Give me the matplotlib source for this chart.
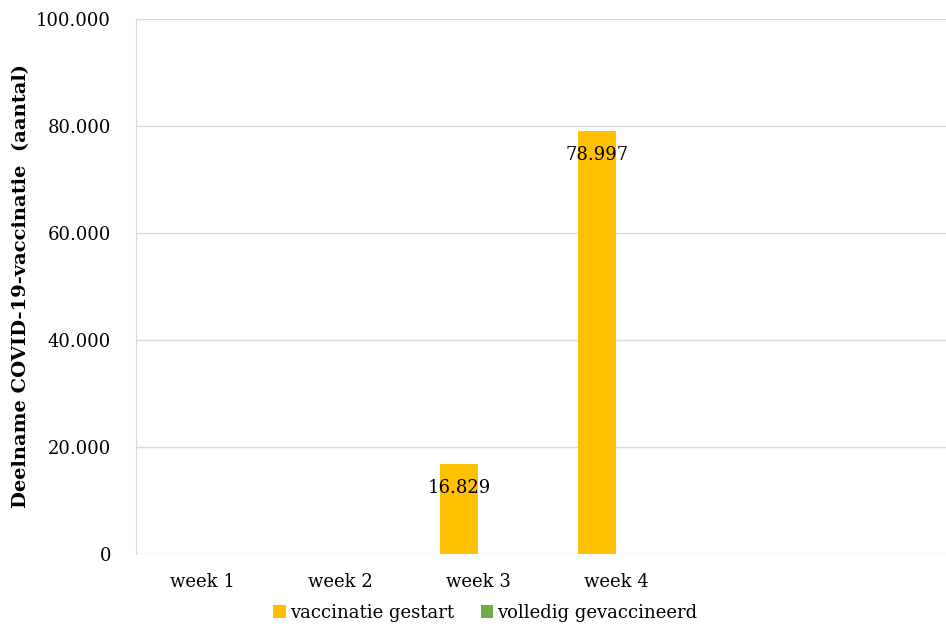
import matplotlib
matplotlib.use("Agg")
import matplotlib.pyplot as plt
from matplotlib.ticker import FuncFormatter
import numpy as np

weeks = ["week 1", "week 2", "week 3", "week 4"]
gestart = [0, 0, 16829, 78997]
volledig = [0, 0, 0, 0]
series_names = ["vaccinatie gestart", "volledig gevaccineerd"]

plt.rcParams["font.family"] = ["DejaVu Serif"]

fig = plt.figure(figsize=(9.46, 6.27), dpi=100)
ax = fig.add_axes([136 / 946, 73 / 627, 1 - 136 / 946, (554 - 19) / 627])

x = np.arange(len(weeks))
w = 0.275
ax.bar(x - w / 2, gestart, width=w, color="#FFC000", label=series_names[0], zorder=3)
ax.bar(x + w / 2, volledig, width=w, color="#70AD47", label=series_names[1], zorder=3)

for xi, v in zip(x, gestart):
    if v > 0:
        ax.annotate(f"{v:,}".replace(",", "."), (xi - w / 2, v), xytext=(0, -17),
                    textcoords="offset points", ha="center", va="center", fontsize=13)

ax.set_xlim(-66 / 138, -66 / 138 + 810 / 138)
ax.set_ylim(0, 100000)
ax.set_yticks(np.arange(0, 100001, 20000))
ax.yaxis.set_major_formatter(FuncFormatter(lambda v, p: f"{int(v):,}".replace(",", ".")))
ax.set_xticks(x)
ax.set_xticklabels(weeks)
ax.tick_params(axis="both", length=0, labelsize=13)
ax.tick_params(axis="x", pad=14)
ax.tick_params(axis="y", pad=18)
ax.grid(axis="y", color="#d9d9d9", linewidth=1, zorder=0)
for s in ["top", "right", "bottom"]:
    ax.spines[s].set_visible(False)
ax.spines["left"].set_color("#d9d9d9")
ax.set_ylabel("Deelname COVID-19-vaccinatie  (aantal)", fontsize=14, fontweight="bold", labelpad=4)

fig.legend(loc="lower center", bbox_to_anchor=(0.513, -0.018), ncol=2, frameon=False,
           fontsize=13, handlelength=0.7, handleheight=0.7, handletextpad=0.2, columnspacing=1.5)

plt.savefig("out.png", dpi=100)
plt.close()
